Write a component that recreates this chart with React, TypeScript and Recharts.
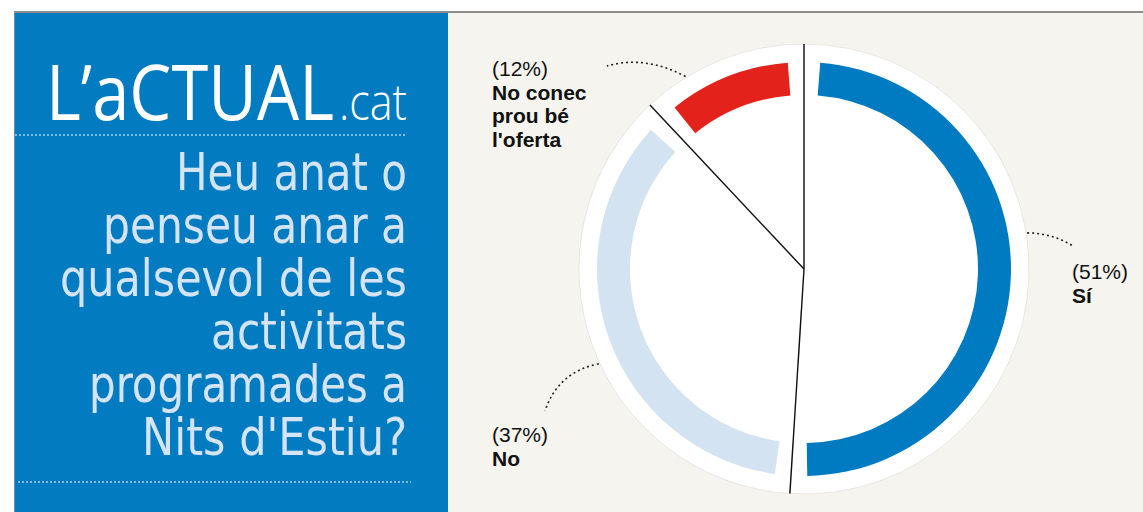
import { PieChart, Pie, Cell, Sector } from 'recharts'

// survey answers, clockwise from 12 o'clock
const answers = ['Sí', 'No', "No conec\nprou bé\nl'oferta"]
const shares = [51, 37, 12]
const ringColors = ['#007bc2', '#d3e3f2', '#e3231b']

const titleLines = ['Heu anat o', 'penseu anar a', 'qualsevol de les', 'activitats', 'programades a', "Nits d'Estiu?"]

const slices = answers.map((name, i) => ({ name, value: shares[i] }))

const RAD = Math.PI / 180
const polar = (cx: number, cy: number, r: number, a: number) => ({
  x: cx + Math.cos(-a * RAD) * r,
  y: cy + Math.sin(-a * RAD) * r,
})

// callout layout, relative to the pie centre
const callouts = [
  { lead: 11, ctrl: [248, -36], end: [269, -23], text: [268, 10] },
  { lead: 5, ctrl: [-246, 103], end: [-259, 142], text: [-312, 173] },
  { lead: 10, ctrl: [-159, -214], end: [-197, -203], text: [-312, -193] },
]

const titleWidths = [231, 304, 347, 196, 318, 265]

const HALF_GAP = 4.5

function RingSector(props: any) {
  return <Sector {...props} startAngle={props.startAngle - HALF_GAP} endAngle={props.endAngle + HALF_GAP} />
}

function Divider(props: any) {
  const { cx, cy, startAngle, index } = props
  const p = polar(cx, cy, 225, startAngle)
  return <line key={`d${index}`} x1={cx} y1={cy} x2={p.x} y2={p.y} stroke="#111" strokeWidth={1.4} />
}

function Callout(props: any) {
  const { cx, cy, midAngle, index, value, name } = props
  const c = callouts[index]
  const s = polar(cx, cy, 226, midAngle + c.lead)
  const tx = cx + c.text[0]
  const ty = cy + c.text[1]
  const lines = String(name).split('\n')
  return (
    <g key={`c${index}`}>
      <path
        d={`M${s.x},${s.y} Q${cx + c.ctrl[0]},${cy + c.ctrl[1]} ${cx + c.end[0]},${cy + c.end[1]}`}
        fill="none"
        stroke="#222"
        strokeWidth={1.6}
        strokeDasharray="2 3"
      />
      <text x={tx} y={ty} fontSize={21} fill="#111" fontFamily="'Liberation Sans', Arial, sans-serif">
        ({value}%)
      </text>
      {lines.map((l, j) => (
        <text key={j} x={tx} y={ty + 23.5 * (j + 1)} fontSize={21} fontWeight="bold" fill="#111" fontFamily="'Liberation Sans', Arial, sans-serif">
          {l}
        </text>
      ))}
    </g>
  )
}

export default function App() {
  return (
    <div style={{ position: 'absolute', left: 0, top: 0, width: 1143, height: 512, background: '#fff', overflow: 'hidden' }}>
      <div style={{ position: 'absolute', left: 14, top: 11, width: 1129, height: 2, background: '#8d8d8d' }} />
      <svg width={448} height={512} style={{ position: 'absolute', left: 0, top: 0 }}>
        <rect x={14} y={13} width={434} height={499} fill="#037bc0" />
        <line x1={14.5} y1={13} x2={14.5} y2={512} stroke="#6d8fae" strokeWidth={1} />
        <text x={46} y={120} fontSize={76} fill="#fff" fontFamily="'Open Sans', sans-serif" textLength={288} lengthAdjust="spacingAndGlyphs">
          L’aCTUAL
        </text>
        <text x={339} y={120} fontSize={50} fill="#fff" fontFamily="'Open Sans', sans-serif" fontWeight={300} textLength={68} lengthAdjust="spacingAndGlyphs">
          .cat
        </text>
        <line x1={15} y1={135} x2={407} y2={135} stroke="#a9d0ec" strokeWidth={1.5} strokeDasharray="2 2" />
        {titleLines.map((t, i) => (
          <text
            key={t}
            x={407}
            y={190 + i * 53}
            textAnchor="end"
            fontSize={52}
            fill="#d4e4f4"
            fontFamily="'Liberation Sans Narrow', 'DejaVu Sans Condensed', sans-serif"
            textLength={titleWidths[i]}
            lengthAdjust="spacingAndGlyphs"
          >
            {t}
          </text>
        ))}
        <line x1={18} y1={482} x2={411} y2={482} stroke="#a9d0ec" strokeWidth={1.5} strokeDasharray="2 2" />
      </svg>
      <div style={{ position: 'absolute', left: 448, top: 13, width: 695, height: 499, background: '#f6f4ee' }}>
        <PieChart width={695} height={499}>
          <Pie
            data={slices}
            dataKey="value"
            cx={351}
            cy={251}
            innerRadius={0}
            outerRadius={225}
            startAngle={90}
            endAngle={-270}
            fill="#fff"
            stroke="#dcd8d0"
            strokeWidth={0.6}
            label={Divider}
            labelLine={false}
            isAnimationActive={false}
          />
          <Pie
            data={slices}
            dataKey="value"
            cx={351}
            cy={251}
            innerRadius={174}
            outerRadius={207}
            startAngle={90}
            endAngle={-270}
            stroke="none"
            shape={RingSector}
            label={Callout}
            labelLine={false}
            isAnimationActive={false}
          >
            {slices.map((s, i) => (
              <Cell key={s.name} fill={ringColors[i]} />
            ))}
          </Pie>
        </PieChart>
      </div>
    </div>
  )
}
